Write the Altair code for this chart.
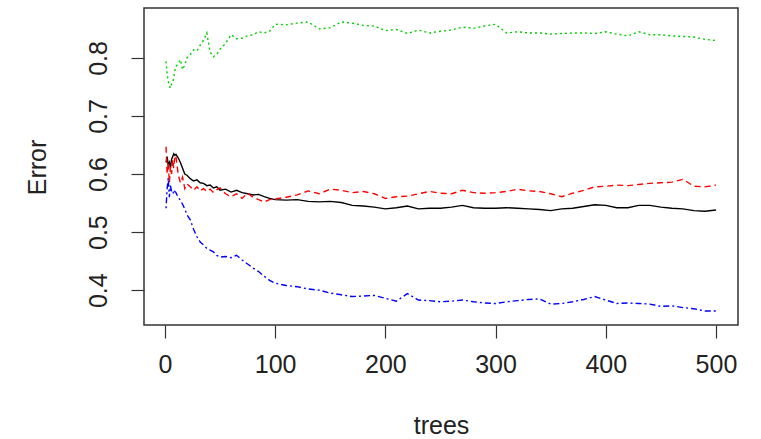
import altair as alt
import pandas as pd

trees = [1, 2, 3, 4, 5, 6, 7, 8, 9, 10, 12, 14, 16, 18, 20, 23, 26, 29, 32, 35,
         38, 41, 44, 47, 50, 55, 60, 65, 70, 75, 80, 85, 90, 95, 100,
         110, 120, 130, 140, 150, 160, 170, 180, 190, 200, 210, 220, 230, 240, 250,
         260, 270, 280, 290, 300, 310, 320, 330, 340, 350, 360, 370, 380, 390, 400,
         410, 420, 430, 440, 450, 460, 470, 480, 490, 500]

oob = [0.620, 0.630, 0.615, 0.620, 0.610, 0.625, 0.630, 0.635, 0.632, 0.634,
       0.628, 0.620, 0.610, 0.600, 0.598, 0.592, 0.588, 0.590, 0.585, 0.584,
       0.580, 0.581, 0.576, 0.578, 0.572, 0.574, 0.569, 0.572, 0.568, 0.566,
       0.564, 0.565, 0.561, 0.558, 0.556,
       0.555, 0.556, 0.553, 0.552, 0.553, 0.551, 0.546, 0.545, 0.543, 0.540,
       0.542, 0.545, 0.540, 0.541, 0.541, 0.543, 0.546, 0.542, 0.541, 0.541,
       0.542, 0.541, 0.540, 0.539, 0.537, 0.540, 0.541, 0.544, 0.547, 0.546,
       0.542, 0.542, 0.546, 0.546, 0.543, 0.541, 0.540, 0.537, 0.536, 0.538]

class1 = [0.647, 0.600, 0.620, 0.585, 0.612, 0.600, 0.625, 0.610, 0.632, 0.630,
          0.600, 0.585, 0.595, 0.575, 0.583, 0.578, 0.572, 0.578, 0.571, 0.575,
          0.570, 0.574, 0.568, 0.573, 0.576, 0.566, 0.561, 0.566, 0.558, 0.567,
          0.560, 0.556, 0.552, 0.556, 0.557,
          0.560, 0.564, 0.571, 0.566, 0.574, 0.572, 0.568, 0.570, 0.566, 0.558,
          0.561, 0.562, 0.566, 0.570, 0.567, 0.566, 0.572, 0.568, 0.567, 0.568,
          0.570, 0.574, 0.571, 0.570, 0.566, 0.561, 0.567, 0.572, 0.578, 0.579,
          0.581, 0.580, 0.582, 0.584, 0.585, 0.586, 0.591, 0.579, 0.578, 0.581]

class2 = [0.794, 0.772, 0.760, 0.752, 0.748, 0.756, 0.758, 0.765, 0.778, 0.785,
          0.790, 0.797, 0.780, 0.788, 0.800, 0.806, 0.814, 0.812, 0.822, 0.830,
          0.843, 0.810, 0.802, 0.806, 0.815, 0.825, 0.840, 0.833, 0.834, 0.838,
          0.840, 0.845, 0.843, 0.846, 0.858,
          0.857, 0.860, 0.862, 0.850, 0.852, 0.862, 0.860, 0.856, 0.855, 0.847,
          0.849, 0.842, 0.848, 0.843, 0.846, 0.848, 0.853, 0.851, 0.855, 0.858,
          0.843, 0.845, 0.843, 0.843, 0.841, 0.842, 0.843, 0.843, 0.842, 0.845,
          0.841, 0.838, 0.845, 0.840, 0.840, 0.838, 0.837, 0.836, 0.832, 0.830]

class3 = [0.541, 0.575, 0.593, 0.560, 0.580, 0.570, 0.572, 0.565, 0.570, 0.568,
          0.560, 0.555, 0.548, 0.540, 0.530, 0.521, 0.505, 0.492, 0.483, 0.478,
          0.472, 0.469, 0.466, 0.460, 0.457, 0.458, 0.456, 0.460, 0.452, 0.445,
          0.438, 0.432, 0.424, 0.417, 0.412,
          0.408, 0.406, 0.402, 0.400, 0.395, 0.392, 0.389, 0.390, 0.391, 0.386,
          0.381, 0.394, 0.383, 0.382, 0.380, 0.381, 0.383, 0.380, 0.378, 0.377,
          0.380, 0.382, 0.384, 0.385, 0.376, 0.377, 0.380, 0.384, 0.389, 0.383,
          0.377, 0.378, 0.377, 0.376, 0.372, 0.373, 0.370, 0.368, 0.364, 0.364]

series = [("OOB", oob, "#000000", [1, 0]),
          ("1", class1, "#FF0000", [6, 4]),
          ("2", class2, "#00CD00", [2, 3]),
          ("3", class3, "#0000FF", [2, 3, 6, 3])]

FONT = "Liberation Sans"

xscale = alt.Scale(domain=[-19, 520], nice=False, zero=False)
yscale = alt.Scale(domain=[0.34, 0.886], nice=False, zero=False)

xaxis = alt.Axis(values=[0, 100, 200, 300, 400, 500], title="trees", grid=False,
                 domain=False, tickSize=13, tickColor="#333333", tickWidth=1.2,
                 labelFont=FONT, labelFontSize=25, labelColor="#222222",
                 labelPadding=14, labelFlush=False,
                 titleFont=FONT, titleFontSize=25, titleFontWeight="normal",
                 titleColor="#222222", titleX=297, titleY=100,
                 titleBaseline="middle", titleAlign="center")
yaxis = alt.Axis(values=[0.4, 0.5, 0.6, 0.7, 0.8], title="Error", grid=False,
                 domain=False, tickSize=13, tickColor="#333333", tickWidth=1.2,
                 labelFont=FONT, labelFontSize=25, labelColor="#222222",
                 labelAngle=270, labelAlign="center", labelBaseline="middle",
                 labelPadding=33, labelFlush=False, format=".1f",
                 titleFont=FONT, titleFontSize=25, titleFontWeight="normal",
                 titleColor="#222222", titleAngle=270, titleX=-107, titleY=159,
                 titleBaseline="middle", titleAlign="center")

layers = []
for i, (name, vals, col, dash) in enumerate(series):
    df = pd.DataFrame({"trees": trees, "Error": vals})
    if i == 0:
        kw = dict(x=alt.X("trees:Q", scale=xscale, axis=xaxis),
                  y=alt.Y("Error:Q", scale=yscale, axis=yaxis))
    else:
        kw = dict(x=alt.X("trees:Q", scale=xscale),
                  y=alt.Y("Error:Q", scale=yscale))
    mark_kw = dict(color=col, strokeWidth=1.4, clip=True)
    if name != "OOB":
        mark_kw["strokeDash"] = dash
    layers.append(alt.Chart(df).mark_line(**mark_kw).encode(**kw))

chart = alt.layer(*layers).properties(
    width=594, height=317,
    autosize=alt.AutoSizeParams(type="none"),
    padding={"left": 144, "top": 8, "right": 23, "bottom": 114},
    background="white",
).configure_view(stroke="#333333", strokeWidth=1.5)

chart.save("out.html", embed_options={"renderer": "svg", "actions": False})
